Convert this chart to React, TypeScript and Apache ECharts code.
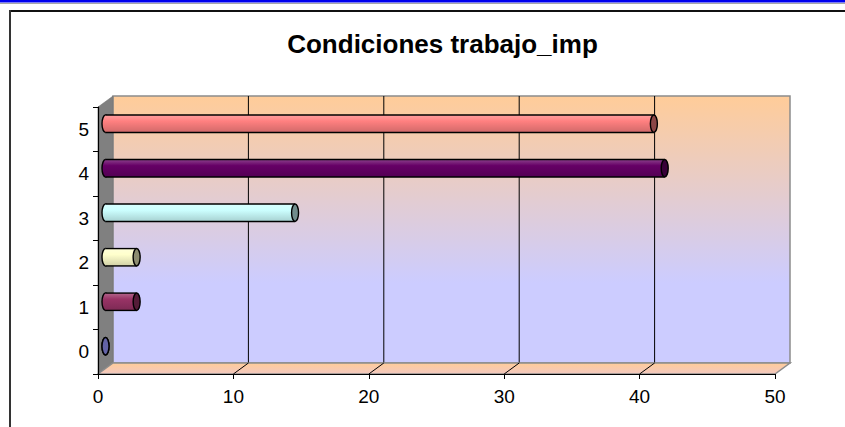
import React, { useEffect, useRef } from "react";
import * as echarts from "echarts";

const titleText = "Condiciones trabajo_imp";
const categories = ["0", "1", "2", "3", "4", "5"];
const values = [0, 2.3, 2.3, 14.0, 41.3, 40.5];
const barColors = ["#9999FF", "#993366", "#FFFFCC", "#CCFFFF", "#660066", "#FF8080"];
const xMin = 0;
const xMax = 50;
const xInterval = 10;
const gridTicks = [10, 20, 30, 40];

const DX = 15;
const DY = -11;
const FONT = '"Liberation Sans", Arial, sans-serif';

function shade(hex: string, f: number): string {
  const n = parseInt(hex.slice(1), 16);
  let r = (n >> 16) & 255, g = (n >> 8) & 255, b = n & 255;
  if (f <= 1) {
    r = Math.round(r * f); g = Math.round(g * f); b = Math.round(b * f);
  } else {
    const t = f - 1;
    r = Math.round(r + (255 - r) * t); g = Math.round(g + (255 - g) * t); b = Math.round(b + (255 - b) * t);
  }
  return `rgb(${r},${g},${b})`;
}

export default function App() {
  const ref = useRef<HTMLDivElement>(null);
  useEffect(() => {
    if (!ref.current) return;
    const chart = echarts.init(ref.current, undefined, { renderer: "svg" });

    const wallsRender = (params: any, api: any) => {
      const cs = params.coordSys;
      const x0 = cs.x, y0 = cs.y, w = cs.width, h = cs.height;
      const children: any[] = [];
      children.push({
        type: "rect",
        shape: { x: x0 + DX, y: y0 + DY, width: w, height: h },
        style: {
          fill: new echarts.graphic.LinearGradient(0, 0, 0, 1, [
            { offset: 0, color: "#FFCC99" },
            { offset: 0.7, color: "#CCCCFF" },
            { offset: 1, color: "#CCCCFF" },
          ]),
          stroke: "#8c8c8c",
          lineWidth: 1.5,
        },
      });
      gridTicks.forEach((v) => {
        const xv = api.coord([v, 0])[0];
        children.push({
          type: "line",
          shape: { x1: xv + DX, y1: y0 + DY, x2: xv + DX, y2: y0 + h + DY },
          style: { stroke: "#000", lineWidth: 1 },
        });
      });
      children.push({
        type: "polygon",
        shape: { points: [[x0, y0], [x0 + DX, y0 + DY], [x0 + DX, y0 + h + DY], [x0, y0 + h]] },
        style: { fill: "#808080", stroke: "#707070", lineWidth: 0.5 },
      });
      children.push({
        type: "polygon",
        shape: {
          points: [[x0, y0 + h], [x0 + DX, y0 + h + DY], [x0 + w + DX, y0 + h + DY], [x0 + w, y0 + h]],
        },
        style: {
          fill: new echarts.graphic.LinearGradient(0, 0, 0, 1, [
            { offset: 0, color: "#FFCC99" },
            { offset: 1, color: "#F2C8C0" },
          ]),
          stroke: "#8c8c8c",
          lineWidth: 1.5,
        },
      });
      gridTicks.forEach((v) => {
        const xv = api.coord([v, 0])[0];
        children.push({
          type: "line",
          shape: { x1: xv, y1: y0 + h, x2: xv + DX, y2: y0 + h + DY },
          style: { stroke: "#000", lineWidth: 1 },
        });
      });
      return { type: "group", children };
    };

    const barsRender = (params: any, api: any) => {
      const val = api.value(0);
      const cat = api.value(1);
      const start = api.coord([0, cat]);
      const end = api.coord([val, cat]);
      const bandH = api.size([0, 1])[1];
      const cy = start[1] + DY / 2;
      const xs = start[0] + DX / 2;
      const xe = end[0] + DX / 2;
      const ry = bandH * 0.195;
      const rx = 3.5;
      const c = barColors[params.dataIndex];
      const body = new echarts.graphic.LinearGradient(0, 0, 0, 1, [
        { offset: 0, color: shade(c, 1.25) },
        { offset: 0.35, color: c },
        { offset: 1, color: shade(c, 0.82) },
      ]);
      const cap = shade(c, 0.55);
      return {
        type: "group",
        children: [
          {
            type: "ellipse",
            shape: { cx: xs, cy, rx, ry },
            style: { fill: body, stroke: "#000", lineWidth: 1.4 },
          },
          {
            type: "rect",
            shape: { x: xs, y: cy - ry, width: Math.max(0, xe - xs), height: 2 * ry },
            style: { fill: body },
          },
          {
            type: "line",
            shape: { x1: xs, y1: cy - ry, x2: xe, y2: cy - ry },
            style: { stroke: "#000", lineWidth: 1.4 },
          },
          {
            type: "line",
            shape: { x1: xs, y1: cy + ry, x2: xe, y2: cy + ry },
            style: { stroke: "#000", lineWidth: 1.4 },
          },
          {
            type: "ellipse",
            shape: { cx: xe, cy, rx, ry },
            style: { fill: val === 0 ? shade(c, 0.65) : cap, stroke: "#000", lineWidth: 1.4 },
          },
        ],
      };
    };

    chart.setOption({
      animation: false,
      backgroundColor: "#fff",
      grid: {
        left: 98,
        right: 70,
        top: 107,
        bottom: 53,
        containLabel: false,
        outerBoundsMode: "none",
      },
      graphic: [
        { type: "rect", shape: { x: 0, y: 0, width: 845, height: 2.5 }, style: { fill: "#0000EE" } },
        { type: "rect", shape: { x: 0, y: 3, width: 845, height: 1 }, style: { fill: "#A8A8A8" } },
        { type: "rect", shape: { x: 9, y: 10, width: 836, height: 2 }, style: { fill: "#111" } },
        { type: "rect", shape: { x: 9, y: 10, width: 2, height: 417 }, style: { fill: "#333" } },
        {
          type: "text",
          x: 442.5,
          y: 31,
          style: {
            text: titleText,
            textAlign: "center",
            textVerticalAlign: "top",
            font: `bold 26px ${FONT}`,
            fill: "#000",
          },
        },
      ],
      xAxis: {
        type: "value",
        min: xMin,
        max: xMax,
        interval: xInterval,
        z: 5,
        axisLine: { show: true, lineStyle: { color: "#000", width: 1.2 } },
        axisTick: { show: true, length: 5, lineStyle: { color: "#000" } },
        splitLine: { show: false },
        axisLabel: { color: "#000", fontSize: 19, fontFamily: FONT, margin: 13 },
      },
      yAxis: {
        type: "category",
        data: categories,
        z: 5,
        axisLine: { show: true, lineStyle: { color: "#000", width: 1.2 } },
        axisTick: { show: true, length: 5, lineStyle: { color: "#000" } },
        splitLine: { show: false },
        axisLabel: { color: "#000", fontSize: 19, fontFamily: FONT, margin: 9 },
      },
      series: [
        {
          type: "custom",
          name: "walls",
          coordinateSystem: "cartesian2d",
          clip: false,
          silent: true,
          z: 1,
          data: [[0, 0]],
          encode: { x: 0, y: 1 },
          renderItem: wallsRender,
        },
        {
          type: "custom",
          name: "bars",
          coordinateSystem: "cartesian2d",
          clip: false,
          z: 3,
          data: values.map((v, i) => [v, i]),
          encode: { x: 0, y: 1 },
          renderItem: barsRender,
        },
      ],
    });
    return () => chart.dispose();
  }, []);
  return (
    <div
      ref={ref}
      style={{ position: "fixed", left: 0, top: 0, width: 845, height: 427, background: "#fff" }}
    />
  );
}
